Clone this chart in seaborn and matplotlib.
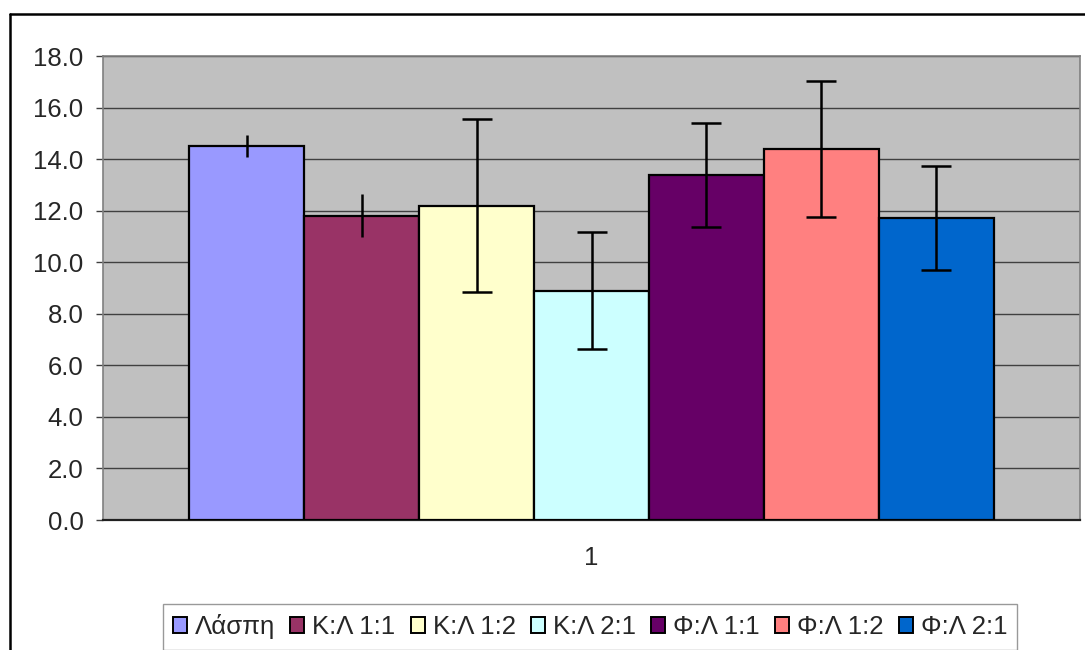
import matplotlib
matplotlib.use("Agg")
import matplotlib.pyplot as plt
from matplotlib.lines import Line2D
from matplotlib.patches import Patch
import pandas as pd
import seaborn as sns

# Τιμές όπως διαβάζονται από το διάγραμμα
SERIES = ['Λάσπη', 'Κ:Λ 1:1', 'Κ:Λ 1:2', 'Κ:Λ 2:1', 'Φ:Λ 1:1', 'Φ:Λ 1:2', 'Φ:Λ 2:1']
MEANS = [14.5, 11.8, 12.2, 8.9, 13.4, 14.4, 11.7]
ERRORS = [0.42, 0.84, 3.37, 2.27, 2.02, 2.63, 2.02]
CAPPED = [False, False, True, True, True, True, True]
CATEGORY = ['1'] * len(SERIES)
COLORS = ['#9999FF', '#993366', '#FFFFCC', '#CCFFFF', '#660066', '#FF8080', '#0066CC']
Y_TICKS = [0, 2, 4, 6, 8, 10, 12, 14, 16, 18]

df = pd.DataFrame({'grp': CATEGORY, 'series': SERIES, 'value': MEANS})

sns.set_style("white")
plt.rcParams['font.family'] = ['Liberation Sans', 'DejaVu Sans']
FS = 18.5

fig = plt.figure(figsize=(10.85, 6.5), dpi=100)
ax = fig.add_axes([103 / 1085, 1 - 520 / 650, (1080 - 103) / 1085, (520 - 56) / 650])
ax.set_facecolor('#C0C0C0')

sns.barplot(data=df, x='grp', y='value', hue='series', hue_order=SERIES,
            palette=COLORS, width=0.823, edgecolor='black', linewidth=1.6,
            saturation=1, legend=False, ax=ax, zorder=3)

# Μπάρες σφάλματος πάνω στις θέσεις που έδωσε το seaborn
for cont, err, cap in zip(ax.containers, ERRORS, CAPPED):
    bar = cont.patches[0]
    xc = bar.get_x() + bar.get_width() / 2
    ax.errorbar(xc, bar.get_height(), yerr=err, fmt='none', ecolor='black',
                elinewidth=1.8, capsize=11 if cap else 0, capthick=1.8, zorder=4)

ax.set_xlim(-0.5, 0.5)
ax.set_ylim(0, 18)
ax.set_yticks(Y_TICKS)
ax.set_yticklabels([f'{v:.1f}' for v in Y_TICKS])
ax.grid(axis='y', color='#404040', linewidth=1.0, zorder=0)
ax.set_axisbelow(True)

ax.set_xticks([0])
ax.set_xticklabels(['1'])
ax.set_xticks([-0.5, 0.5], minor=True)
ax.tick_params(axis='x', which='major', length=0, pad=19, labelsize=FS)
ax.tick_params(axis='x', which='minor', length=5, width=1, color='#808080')
ax.tick_params(axis='y', length=5, width=1, color='#404040', pad=9, labelsize=FS, left=True)
ax.set_xlabel('')
ax.set_ylabel('')

for s in ['top', 'right', 'left']:
    ax.spines[s].set_color('#808080')
    ax.spines[s].set_linewidth(1.2)
ax.spines['bottom'].set_color('#202020')
ax.spines['bottom'].set_linewidth(1.6)

handles = [Patch(facecolor=c, edgecolor='black', linewidth=1.4) for c in COLORS]
leg = fig.legend(handles, SERIES, ncol=len(SERIES), loc='upper center',
                 bbox_to_anchor=(590 / 1085, 1 - 604 / 650), fontsize=FS,
                 handlelength=0.55, handleheight=0.55, handletextpad=0.3,
                 columnspacing=0.6, borderpad=0.4, fancybox=False,
                 frameon=True, edgecolor='#808080', borderaxespad=0)
leg.get_frame().set_linewidth(1.0)

# Εξωτερικό πλαίσιο του γραφήματος (φαίνεται μόνο πάνω και αριστερά)
fig.add_artist(Line2D([10 / 1085, 1.0], [1 - 14 / 650, 1 - 14 / 650],
                      transform=fig.transFigure, color='black', linewidth=1.8))
fig.add_artist(Line2D([10 / 1085, 10 / 1085], [1 - 14 / 650, 0.0],
                      transform=fig.transFigure, color='black', linewidth=1.8))

fig.savefig('out.png', dpi=100)
